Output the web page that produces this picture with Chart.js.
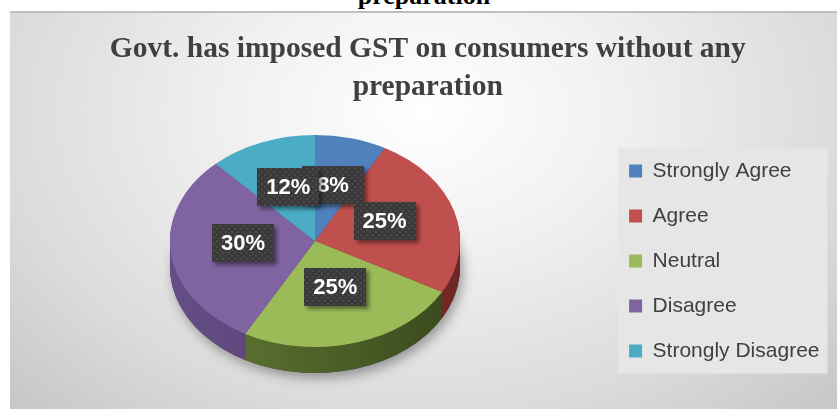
<!DOCTYPE html>
<html>
<head>
<meta charset="utf-8">
<script src="https://cdn.jsdelivr.net/npm/chart.js@4.4.1/dist/chart.umd.min.js"></script>
<style>
  html, body { margin: 0; padding: 0; background: #fff; }
  body { width: 837px; height: 409px; position: relative; overflow: hidden; }
  #doc-caption {
    position: absolute; left: 324px; top: -17px; width: 200px;
    text-align: center; color: #000;
    font: bold 26px/26px 'Liberation Serif', 'Times New Roman', serif;
  }
  #frame {
    position: absolute; left: 10px; top: 11px; right: 0; bottom: 0;
    border-top: 2px solid #bfbfbf;
    background: radial-gradient(ellipse at 50% 25%, #ffffff 0%, #f1f1f1 32%, #dbdbdb 72%, #c6c6c6 100%);
  }
  #chart { position: absolute; left: 0; top: 0; }
</style>
</head>
<body>
<div id="doc-caption">preparation</div>
<div id="frame"></div>
<canvas id="chart" width="837" height="409"></canvas>
<script>
const categories = ['Strongly Agree', 'Agree', 'Neutral', 'Disagree', 'Strongly Disagree'];
const shares = [8, 25, 25, 30, 12];
const faceColors = ['#4f81bd', '#c0504d', '#9bbb59', '#8064a2', '#4bacc6'];
const sideColors = [
  ['#40699a', '#2c4a6e'],
  ['#9c3f3d', '#6e2624'],
  ['#647c35', '#39481d'],
  ['#654e85', '#4a3763'],
  ['#3d8fa5', '#2a6777']
];
const titleLines = ['Govt. has imposed GST on consumers without any', 'preparation'];

// ellipse the flat pie is squashed into, plus the 3d rim depth
const PIE = { cx: 315, cy: 241, rx: 145, ry: 106, depth: 26, labelLift: 5, labelAt: 0.5 };

function makeLabelPattern(ctx) {
  const tile = document.createElement('canvas');
  tile.width = 6;
  tile.height = 6;
  const t = tile.getContext('2d');
  t.fillStyle = '#3a3a3a';
  t.fillRect(0, 0, 6, 6);
  t.fillStyle = '#4a4a4a';
  t.fillRect(0, 0, 2, 2);
  t.fillRect(3, 3, 2, 2);
  return ctx.createPattern(tile, 'repeat');
}

const pie3d = {
  id: 'pie3d',
  beforeDraw(chart) {
    const lg = chart.legend;
    const pad = lg.options.labels.padding;
    const colH = lg.columnSizes[0].height;
    const ctx = chart.ctx;
    ctx.save();
    ctx.fillStyle = '#e6e6e6';
    const x = lg.left + 13;
    ctx.fillRect(x, lg.bottom - colH - 12, lg.right - 2 - x, colH - pad + 24);
    ctx.restore();
  },
  beforeDatasetsDraw(chart) {
    const ctx = chart.ctx;
    const arcs = chart.getDatasetMeta(0).data;
    const r = arcs[0].outerRadius;
    const sx = PIE.rx / r;
    const sy = PIE.ry / r;

    // soft shadow under the rim
    ctx.save();
    ctx.translate(PIE.cx, PIE.cy + PIE.depth);
    ctx.scale(sx, sy);
    ctx.shadowColor = 'rgba(0, 0, 0, 0.35)';
    ctx.shadowBlur = 12;
    ctx.shadowOffsetX = 3;
    ctx.shadowOffsetY = 5;
    ctx.beginPath();
    ctx.arc(0, 0, r, 0, Math.PI * 2);
    ctx.fillStyle = '#4a4a4a';
    ctx.fill();
    ctx.restore();

    // rim: stack of darker copies of each slice
    for (let d = PIE.depth; d > 0; d--) {
      arcs.forEach((arc, i) => {
        ctx.save();
        ctx.translate(PIE.cx, PIE.cy + d);
        ctx.scale(sx, sy);
        const g = ctx.createLinearGradient(-r, 0, r, 0);
        g.addColorStop(0, sideColors[i][0]);
        g.addColorStop(1, sideColors[i][1]);
        ctx.fillStyle = g;
        ctx.beginPath();
        ctx.moveTo(0, 0);
        ctx.arc(0, 0, r, arc.startAngle, arc.endAngle);
        ctx.closePath();
        ctx.fill();
        ctx.restore();
      });
    }

    // top face: let Chart.js draw its arcs through the squash transform
    ctx.save();
    ctx.translate(PIE.cx, PIE.cy);
    ctx.scale(sx, sy);
    ctx.translate(-arcs[0].x, -arcs[0].y);
  },
  afterDatasetsDraw(chart) {
    const ctx = chart.ctx;
    ctx.restore();

    const arcs = chart.getDatasetMeta(0).data;
    const values = chart.data.datasets[0].data;
    const pattern = makeLabelPattern(ctx);
    const w = 62;
    const h = 38;
    arcs.forEach((arc, i) => {
      const mid = (arc.startAngle + arc.endAngle) / 2;
      const x = PIE.cx + PIE.rx * PIE.labelAt * Math.cos(mid);
      const y = PIE.cy - PIE.labelLift + PIE.ry * PIE.labelAt * Math.sin(mid);
      ctx.save();
      ctx.shadowColor = 'rgba(0, 0, 0, 0.45)';
      ctx.shadowBlur = 4;
      ctx.shadowOffsetX = 3;
      ctx.shadowOffsetY = 3;
      ctx.fillStyle = pattern;
      ctx.fillRect(Math.round(x - w / 2), Math.round(y - h / 2), w, h);
      ctx.restore();
      ctx.save();
      ctx.fillStyle = '#ffffff';
      ctx.font = "bold 22px 'Liberation Sans', Arial, sans-serif";
      ctx.textAlign = 'center';
      ctx.textBaseline = 'middle';
      ctx.fillText(`${values[i]}%`, x, y + 1);
      ctx.restore();
    });
  }
};

new Chart(document.getElementById('chart').getContext('2d'), {
  type: 'pie',
  data: {
    labels: categories,
    datasets: [
      {
        data: shares,
        backgroundColor: faceColors,
        borderWidth: 0,
        hoverOffset: 0,
        clip: false
      }
    ]
  },
  options: {
    responsive: false,
    animation: false,
    events: [],
    layout: {
      padding: { left: 26, right: 7.5, top: 0, bottom: 23.5 }
    },
    plugins: {
      title: {
        display: true,
        text: titleLines,
        color: '#404040',
        padding: { top: 31, bottom: 0 },
        font: {
          family: "'Liberation Serif', 'Times New Roman', serif",
          size: 29.5,
          weight: 'bold',
          lineHeight: 1.27
        }
      },
      legend: {
        position: 'right',
        align: 'end',
        labels: {
          color: '#404040',
          boxWidth: 13,
          boxHeight: 13,
          padding: 24,
          font: {
            family: "'Liberation Sans', Arial, sans-serif",
            size: 21
          }
        }
      },
      tooltip: { enabled: false }
    }
  },
  plugins: [pie3d]
});
</script>
</body>
</html>
